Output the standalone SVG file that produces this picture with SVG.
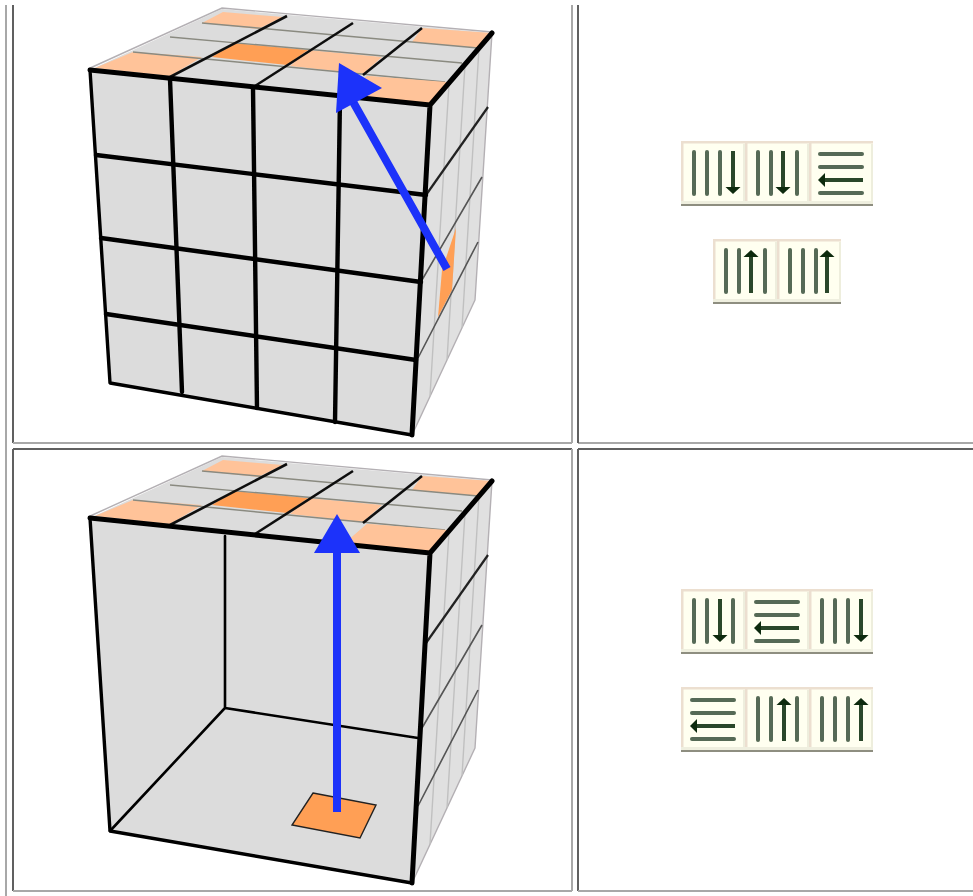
<svg xmlns="http://www.w3.org/2000/svg" width="973" height="896" viewBox="0 0 973 896">
<style>
.lite{stroke:#a8a8a8;stroke-width:2;fill:none}
.dark{stroke:#606060;stroke-width:2;fill:none}
.face{fill:#dcdcdc}
.side{fill:#e0e0e0;stroke:#b4b0b4;stroke-width:1.4;stroke-linejoin:round}
.sv{stroke:#c0c0c0;stroke-width:1.4;fill:none}
.sh{stroke:#555;stroke-width:1.6;fill:none}
.sh1{stroke:#222;stroke-width:2.2;fill:none}
.tc{stroke:#8a8a80;stroke-width:1.4;fill:none}
.tl{stroke:#111;stroke-width:2.6;fill:none}
.ol{fill:#ffc399}
.od{fill:#ff9f55}
.k5{stroke:#000;stroke-width:5;fill:none;stroke-linecap:round;stroke-linejoin:round}
.k4{stroke:#000;stroke-width:4.4;fill:none;stroke-linecap:round;stroke-linejoin:round}
.k35{stroke:#000;stroke-width:3.4;fill:none;stroke-linecap:round;stroke-linejoin:round}
.k3{stroke:#000;stroke-width:2.6;fill:none;stroke-linecap:round}
.blue{fill:#1a30fa}
.shaft{stroke:#1a30fa;stroke-width:8;fill:none}
.gl{stroke:#566b56;stroke-width:4;stroke-linecap:round;fill:none}
.ga{stroke:#2c462c;stroke-width:4;fill:none}
.gh{fill:#0f2a0f}
</style>
<defs>
<filter id="soft" x="-2%" y="-2%" width="104%" height="104%"><feGaussianBlur stdDeviation="0.45"/></filter>
<g id="btn">
<rect x="0" y="0" width="64" height="65" fill="#fffff0"/>
<rect x="0" y="0" width="64" height="2.5" fill="#ecdfd0"/>
<rect x="0" y="0" width="2.5" height="63" fill="#ecdfd0"/>
<rect x="62" y="3" width="2" height="60" fill="#eeeedd"/>
<rect x="0" y="60" width="64" height="3" fill="#efefdf"/>
<rect x="0" y="63" width="64" height="2" fill="#8e8e80"/>
</g>
<path id="v" class="gl" d="M0 11V53"/>
<path id="h" class="gl" d="M11 0H53"/>
<g id="vd"><path class="ga" d="M0 10V46"/><path class="gh" d="M-7.5 46H7.5L0 53Z"/></g>
<g id="vu"><path class="ga" d="M0 18V54"/><path class="gh" d="M-7.5 18H7.5L0 11Z"/></g>
<g id="hl"><path class="ga" d="M16 0H54"/><path class="gh" d="M16 -7V7L9 0Z"/></g>
<g id="cap">
<polygon class="side" points="430,105 492,33 475,300 412,435"/>
<path class="sv" d="M449 84L430 396M465 65L447 360M479 48L462 328"/>
<polygon class="face" points="90,70 222,9 492,33 430,105"/>
<path fill="none" stroke="#b4b0b4" stroke-width="1.4" d="M88 69L222 8L492 32"/>
<polygon class="ol" points="223,12 283,17 258,29 202,23"/>
<polygon class="ol" points="422,28 492,33 478,48 412,42"/>
<polygon class="od" points="233,43 308,50 287,65 212,57"/>
<polygon class="ol" points="308,50 382,57 363,74 290,66"/>
<polygon class="ol" points="133,52 202,57 170,76 95,68"/>
<polygon class="ol" points="367,76 447,82 430,103 345,95"/>
<path class="tc" d="M202 23L478 48M170 37L462 63M133 52L445 82"/>
<path class="tl" d="M170 77L287 16M255 86L353 23M363 75L422 28"/>
</g>
</defs>
<g filter="url(#soft)">
<g id="table-frame">
<rect width="973" height="896" fill="#fff"/>
<path class="lite" d="M6 5V896"/>
<path class="dark" d="M13 5V443"/>
<path class="lite" d="M13 443H572M572 5V443M578 443H973"/>
<path class="dark" d="M578 5V443M13 449V891M13 449H572M578 449V891M578 449H973"/>
<path class="lite" d="M13 891H572M572 449V891M578 891H973"/>
</g>
<g id="cube-1">
<use href="#cap"/>
<polygon class="face" points="90,70 430,105 412,435 110,383"/>
<polygon class="ol" points="367,76 447,82 430,103 345,95"/>
<polygon class="od" points="456,228 452,290 438,317 442,270"/>
<path class="sh1" d="M426 195L488 107"/>
<path class="sh" d="M422 280L482 177M418 358L478 242"/>
<path class="k4" d="M96 155L426 195M101 238L421 282M106 314L416 360"/>
<path class="k4" d="M170 79L182 392M253 88L257 408M340 98L335 422"/>
<path class="k35" d="M90 70L110 383L412 435"/>
<path class="k5" d="M90 70L430 105L412 435M430 105L492 33"/>
<path class="shaft" d="M447 269L352 100"/>
<polygon class="blue" points="339,63 382,88 336,113"/>
</g>
<g id="cube-2" transform="translate(0 448)">
<use href="#cap"/>
<polygon class="face" points="90,70 430,105 412,435 110,383"/>
<polygon class="ol" points="367,76 447,82 430,103 345,95"/>
<path class="sh1" d="M426 195L488 107"/>
<path class="sh" d="M422 280L482 177M418 358L478 242"/>
<path class="k3" d="M225 88V260L110 383M225 260L418 290"/>
<polygon points="313,345 376,357 360,390 292,377" fill="#ff9f55" stroke="#222" stroke-width="1.4"/>
<path class="k35" d="M90 70L110 383L412 435"/>
<path class="k5" d="M90 70L430 105L412 435M430 105L492 33"/>
<path class="shaft" d="M337 364V100"/>
<polygon class="blue" points="337,66 314,105 360,105"/>
</g>
<g id="moves-1">
<g transform="translate(681 141)"><use href="#btn"/><use href="#v" x="13"/><use href="#v" x="26"/><use href="#v" x="39"/><use href="#vd" x="52"/></g>
<g transform="translate(745 141)"><use href="#btn"/><use href="#v" x="13"/><use href="#v" x="26"/><use href="#vd" x="38"/><use href="#v" x="52"/></g>
<g transform="translate(809 141)"><use href="#btn"/><use href="#h" y="13"/><use href="#h" y="26"/><use href="#hl" y="39"/><use href="#h" y="52"/></g>
<g transform="translate(713 239)"><use href="#btn"/><use href="#v" x="13"/><use href="#v" x="26"/><use href="#vu" x="38"/><use href="#v" x="52"/></g>
<g transform="translate(777 239)"><use href="#btn"/><use href="#v" x="13"/><use href="#v" x="26"/><use href="#v" x="39"/><use href="#vu" x="50"/></g>
</g>
<g id="moves-2">
<g transform="translate(681 589)"><use href="#btn"/><use href="#v" x="13"/><use href="#v" x="26"/><use href="#vd" x="39"/><use href="#v" x="52"/></g>
<g transform="translate(745 589)"><use href="#btn"/><use href="#h" y="13"/><use href="#h" y="26"/><use href="#hl" y="39"/><use href="#h" y="52"/></g>
<g transform="translate(809 589)"><use href="#btn"/><use href="#v" x="13"/><use href="#v" x="26"/><use href="#v" x="39"/><use href="#vd" x="52"/></g>
<g transform="translate(681 687)"><use href="#btn"/><use href="#h" y="13"/><use href="#h" y="26"/><use href="#hl" y="39"/><use href="#h" y="52"/></g>
<g transform="translate(745 687)"><use href="#btn"/><use href="#v" x="13"/><use href="#v" x="26"/><use href="#vu" x="39"/><use href="#v" x="52"/></g>
<g transform="translate(809 687)"><use href="#btn"/><use href="#v" x="13"/><use href="#v" x="26"/><use href="#v" x="39"/><use href="#vu" x="52"/></g>
</g>
</g>
</svg>
